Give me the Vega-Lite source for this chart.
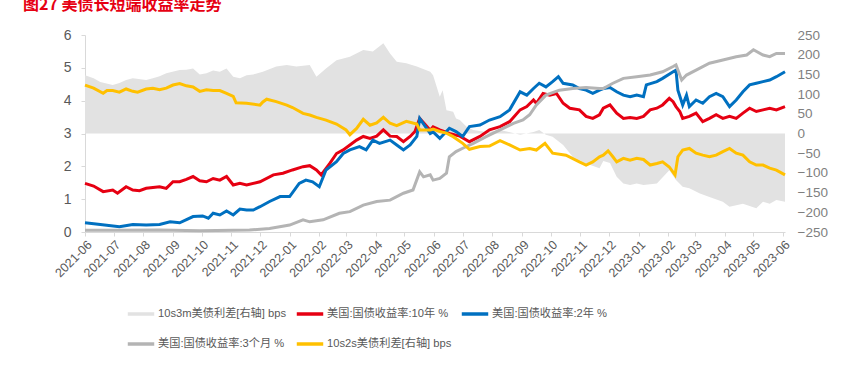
{
  "$schema": "https://vega.github.io/schema/vega-lite/v6.json",
  "width": 700,
  "height": 197,
  "autosize": {"type": "none"},
  "padding": {"left": 85, "top": 35, "right": 61, "bottom": 136},
  "title": {
    "text": "图27  美债长短端收益率走势",
    "anchor": "start",
    "frame": "group",
    "dx": -62,
    "offset": 15,
    "fontSize": 16,
    "fontWeight": "bold",
    "color": "#e60012",
    "font": "Noto Sans CJK SC"
  },
  "config": {
    "view": {"stroke": null},
    "font": "Liberation Sans, Noto Sans CJK SC",
    "axis": {"grid": false, "labelColor": "#595959", "labelFont": "Liberation Sans", "titleColor": "#595959"}
  },
  "datasets": {
    "s3": [
      {"d": "2021-06-01", "v": 148}, {"d": "2021-06-10", "v": 140}, {"d": "2021-06-17", "v": 131}, {"d": "2021-06-30", "v": 123},
      {"d": "2021-07-07", "v": 128}, {"d": "2021-07-14", "v": 136}, {"d": "2021-07-21", "v": 140}, {"d": "2021-08-04", "v": 136},
      {"d": "2021-08-11", "v": 140}, {"d": "2021-08-18", "v": 145}, {"d": "2021-08-25", "v": 153}, {"d": "2021-09-08", "v": 161},
      {"d": "2021-09-15", "v": 162}, {"d": "2021-09-22", "v": 165}, {"d": "2021-09-29", "v": 150}, {"d": "2021-10-06", "v": 153},
      {"d": "2021-10-13", "v": 160}, {"d": "2021-10-20", "v": 157}, {"d": "2021-10-27", "v": 165}, {"d": "2021-11-03", "v": 144},
      {"d": "2021-11-10", "v": 140}, {"d": "2021-11-17", "v": 148}, {"d": "2021-11-24", "v": 150}, {"d": "2021-12-04", "v": 157},
      {"d": "2021-12-18", "v": 170}, {"d": "2021-12-29", "v": 174}, {"d": "2022-01-08", "v": 170}, {"d": "2022-01-22", "v": 174},
      {"d": "2022-01-29", "v": 144}, {"d": "2022-02-08", "v": 165}, {"d": "2022-02-19", "v": 186}, {"d": "2022-03-05", "v": 195},
      {"d": "2022-03-19", "v": 212}, {"d": "2022-03-29", "v": 208}, {"d": "2022-04-09", "v": 229}, {"d": "2022-04-16", "v": 203},
      {"d": "2022-04-23", "v": 182}, {"d": "2022-05-03", "v": 178}, {"d": "2022-05-14", "v": 170}, {"d": "2022-05-28", "v": 157},
      {"d": "2022-05-31", "v": 148}, {"d": "2022-06-07", "v": 93}, {"d": "2022-06-10", "v": 110}, {"d": "2022-06-14", "v": 59},
      {"d": "2022-06-21", "v": 55}, {"d": "2022-06-24", "v": 38}, {"d": "2022-06-28", "v": 34}, {"d": "2022-07-05", "v": 17},
      {"d": "2022-07-12", "v": 9}, {"d": "2022-07-26", "v": 4}, {"d": "2022-08-09", "v": 9}, {"d": "2022-08-30", "v": -3},
      {"d": "2022-09-13", "v": 4}, {"d": "2022-09-19", "v": 9}, {"d": "2022-09-26", "v": -3}, {"d": "2022-10-03", "v": -8},
      {"d": "2022-10-14", "v": -29}, {"d": "2022-10-24", "v": -59}, {"d": "2022-11-07", "v": -76}, {"d": "2022-11-21", "v": -88},
      {"d": "2022-11-25", "v": -70}, {"d": "2022-12-02", "v": -75}, {"d": "2022-12-09", "v": -110}, {"d": "2022-12-16", "v": -127},
      {"d": "2022-12-23", "v": -131}, {"d": "2022-12-30", "v": -127}, {"d": "2023-01-06", "v": -131}, {"d": "2023-01-20", "v": -127},
      {"d": "2023-02-02", "v": -93}, {"d": "2023-02-09", "v": -118}, {"d": "2023-02-16", "v": -135}, {"d": "2023-02-23", "v": -139},
      {"d": "2023-03-06", "v": -152}, {"d": "2023-03-16", "v": -161}, {"d": "2023-03-30", "v": -173}, {"d": "2023-04-06", "v": -186},
      {"d": "2023-04-20", "v": -178}, {"d": "2023-05-04", "v": -190}, {"d": "2023-05-11", "v": -173}, {"d": "2023-05-18", "v": -178},
      {"d": "2023-05-25", "v": -169}, {"d": "2023-06-03", "v": -173}
    ],
    "y10": [
      {"d": "2021-06-01", "v": 1.48}, {"d": "2021-06-10", "v": 1.40}, {"d": "2021-06-20", "v": 1.23}, {"d": "2021-06-30", "v": 1.28},
      {"d": "2021-07-05", "v": 1.18}, {"d": "2021-07-14", "v": 1.38}, {"d": "2021-07-21", "v": 1.28}, {"d": "2021-07-28", "v": 1.26},
      {"d": "2021-08-04", "v": 1.33}, {"d": "2021-08-18", "v": 1.38}, {"d": "2021-08-25", "v": 1.33}, {"d": "2021-09-01", "v": 1.53},
      {"d": "2021-09-08", "v": 1.53}, {"d": "2021-09-15", "v": 1.60}, {"d": "2021-09-22", "v": 1.69}, {"d": "2021-09-29", "v": 1.56},
      {"d": "2021-10-06", "v": 1.53}, {"d": "2021-10-13", "v": 1.63}, {"d": "2021-10-20", "v": 1.58}, {"d": "2021-10-27", "v": 1.69},
      {"d": "2021-11-03", "v": 1.43}, {"d": "2021-11-10", "v": 1.48}, {"d": "2021-11-17", "v": 1.43}, {"d": "2021-12-01", "v": 1.53},
      {"d": "2021-12-15", "v": 1.74}, {"d": "2021-12-25", "v": 1.79}, {"d": "2022-01-04", "v": 1.89}, {"d": "2022-01-15", "v": 1.99},
      {"d": "2022-01-22", "v": 2.02}, {"d": "2022-01-29", "v": 1.89}, {"d": "2022-02-03", "v": 1.74}, {"d": "2022-02-12", "v": 2.09},
      {"d": "2022-02-19", "v": 2.39}, {"d": "2022-02-26", "v": 2.50}, {"d": "2022-03-05", "v": 2.65}, {"d": "2022-03-12", "v": 2.80},
      {"d": "2022-03-19", "v": 2.91}, {"d": "2022-03-26", "v": 2.85}, {"d": "2022-04-02", "v": 2.92}, {"d": "2022-04-09", "v": 3.11},
      {"d": "2022-04-16", "v": 2.92}, {"d": "2022-04-23", "v": 2.91}, {"d": "2022-04-30", "v": 2.75}, {"d": "2022-05-07", "v": 2.91},
      {"d": "2022-05-12", "v": 3.06}, {"d": "2022-05-17", "v": 3.46}, {"d": "2022-05-28", "v": 3.10}, {"d": "2022-05-31", "v": 3.20},
      {"d": "2022-06-07", "v": 3.11}, {"d": "2022-06-17", "v": 3.00}, {"d": "2022-06-28", "v": 2.92}, {"d": "2022-07-08", "v": 2.75},
      {"d": "2022-07-19", "v": 2.91}, {"d": "2022-07-29", "v": 3.11}, {"d": "2022-08-09", "v": 3.21}, {"d": "2022-08-19", "v": 3.36},
      {"d": "2022-08-30", "v": 3.72}, {"d": "2022-09-06", "v": 3.82}, {"d": "2022-09-13", "v": 4.02}, {"d": "2022-09-16", "v": 3.92},
      {"d": "2022-09-23", "v": 4.22}, {"d": "2022-09-30", "v": 4.17}, {"d": "2022-10-07", "v": 4.22}, {"d": "2022-10-14", "v": 3.92},
      {"d": "2022-10-21", "v": 3.77}, {"d": "2022-10-31", "v": 3.72}, {"d": "2022-11-07", "v": 3.52}, {"d": "2022-11-14", "v": 3.46},
      {"d": "2022-11-21", "v": 3.57}, {"d": "2022-11-25", "v": 3.77}, {"d": "2022-12-02", "v": 3.87}, {"d": "2022-12-09", "v": 3.62},
      {"d": "2022-12-16", "v": 3.46}, {"d": "2022-12-23", "v": 3.49}, {"d": "2022-12-30", "v": 3.46}, {"d": "2023-01-06", "v": 3.52},
      {"d": "2023-01-13", "v": 3.72}, {"d": "2023-01-20", "v": 3.77}, {"d": "2023-01-26", "v": 3.87}, {"d": "2023-02-02", "v": 4.07},
      {"d": "2023-02-06", "v": 3.97}, {"d": "2023-02-09", "v": 3.82}, {"d": "2023-02-13", "v": 3.67}, {"d": "2023-02-16", "v": 3.46},
      {"d": "2023-02-23", "v": 3.52}, {"d": "2023-03-02", "v": 3.62}, {"d": "2023-03-09", "v": 3.36}, {"d": "2023-03-16", "v": 3.46},
      {"d": "2023-03-23", "v": 3.57}, {"d": "2023-03-30", "v": 3.46}, {"d": "2023-04-06", "v": 3.52}, {"d": "2023-04-13", "v": 3.46},
      {"d": "2023-04-20", "v": 3.62}, {"d": "2023-04-27", "v": 3.77}, {"d": "2023-05-04", "v": 3.67}, {"d": "2023-05-11", "v": 3.72},
      {"d": "2023-05-18", "v": 3.77}, {"d": "2023-05-25", "v": 3.72}, {"d": "2023-06-03", "v": 3.82}
    ],
    "y2": [
      {"d": "2021-06-01", "v": 0.28}, {"d": "2021-06-17", "v": 0.23}, {"d": "2021-07-07", "v": 0.16}, {"d": "2021-07-21", "v": 0.23},
      {"d": "2021-08-04", "v": 0.21}, {"d": "2021-08-18", "v": 0.23}, {"d": "2021-08-29", "v": 0.31}, {"d": "2021-09-08", "v": 0.28},
      {"d": "2021-09-22", "v": 0.47}, {"d": "2021-10-02", "v": 0.49}, {"d": "2021-10-08", "v": 0.42}, {"d": "2021-10-13", "v": 0.57},
      {"d": "2021-10-20", "v": 0.52}, {"d": "2021-10-27", "v": 0.64}, {"d": "2021-11-03", "v": 0.52}, {"d": "2021-11-10", "v": 0.70},
      {"d": "2021-11-17", "v": 0.67}, {"d": "2021-11-24", "v": 0.67}, {"d": "2021-12-01", "v": 0.77}, {"d": "2021-12-11", "v": 0.93},
      {"d": "2021-12-22", "v": 1.08}, {"d": "2022-01-01", "v": 1.08}, {"d": "2022-01-11", "v": 1.48}, {"d": "2022-01-18", "v": 1.58},
      {"d": "2022-01-25", "v": 1.53}, {"d": "2022-02-01", "v": 1.38}, {"d": "2022-02-08", "v": 1.89}, {"d": "2022-02-19", "v": 2.14},
      {"d": "2022-02-26", "v": 2.39}, {"d": "2022-03-05", "v": 2.50}, {"d": "2022-03-15", "v": 2.60}, {"d": "2022-03-22", "v": 2.50},
      {"d": "2022-03-29", "v": 2.80}, {"d": "2022-04-05", "v": 2.70}, {"d": "2022-04-16", "v": 2.80}, {"d": "2022-04-23", "v": 2.65},
      {"d": "2022-04-30", "v": 2.50}, {"d": "2022-05-07", "v": 2.65}, {"d": "2022-05-14", "v": 2.91}, {"d": "2022-05-17", "v": 3.46},
      {"d": "2022-05-28", "v": 3.00}, {"d": "2022-05-31", "v": 3.05}, {"d": "2022-06-07", "v": 2.85}, {"d": "2022-06-17", "v": 3.16},
      {"d": "2022-06-24", "v": 3.06}, {"d": "2022-07-01", "v": 2.91}, {"d": "2022-07-08", "v": 3.21}, {"d": "2022-07-19", "v": 3.26},
      {"d": "2022-07-29", "v": 3.41}, {"d": "2022-08-09", "v": 3.51}, {"d": "2022-08-19", "v": 3.72}, {"d": "2022-08-30", "v": 4.27},
      {"d": "2022-09-06", "v": 4.17}, {"d": "2022-09-13", "v": 4.37}, {"d": "2022-09-19", "v": 4.53}, {"d": "2022-09-26", "v": 4.42},
      {"d": "2022-10-03", "v": 4.58}, {"d": "2022-10-09", "v": 4.73}, {"d": "2022-10-14", "v": 4.53}, {"d": "2022-10-24", "v": 4.48},
      {"d": "2022-10-31", "v": 4.37}, {"d": "2022-11-07", "v": 4.32}, {"d": "2022-11-14", "v": 4.22}, {"d": "2022-11-21", "v": 4.32},
      {"d": "2022-11-25", "v": 4.37}, {"d": "2022-12-02", "v": 4.40}, {"d": "2022-12-09", "v": 4.27}, {"d": "2022-12-16", "v": 4.17},
      {"d": "2022-12-23", "v": 4.12}, {"d": "2022-12-30", "v": 4.17}, {"d": "2023-01-06", "v": 4.12}, {"d": "2023-01-09", "v": 4.48},
      {"d": "2023-01-20", "v": 4.58}, {"d": "2023-01-26", "v": 4.68}, {"d": "2023-02-06", "v": 4.88}, {"d": "2023-02-09", "v": 4.93},
      {"d": "2023-02-11", "v": 4.32}, {"d": "2023-02-16", "v": 3.87}, {"d": "2023-02-20", "v": 4.17}, {"d": "2023-02-23", "v": 3.82},
      {"d": "2023-03-02", "v": 4.02}, {"d": "2023-03-09", "v": 3.92}, {"d": "2023-03-16", "v": 4.12}, {"d": "2023-03-23", "v": 4.22},
      {"d": "2023-03-30", "v": 4.12}, {"d": "2023-04-06", "v": 3.82}, {"d": "2023-04-13", "v": 4.02}, {"d": "2023-04-20", "v": 4.27},
      {"d": "2023-04-27", "v": 4.48}, {"d": "2023-05-04", "v": 4.53}, {"d": "2023-05-11", "v": 4.58}, {"d": "2023-05-18", "v": 4.63},
      {"d": "2023-05-25", "v": 4.73}, {"d": "2023-06-03", "v": 4.88}
    ],
    "m3": [
      {"d": "2021-06-01", "v": 0.05}, {"d": "2021-07-07", "v": 0.05}, {"d": "2021-08-18", "v": 0.06}, {"d": "2021-09-29", "v": 0.04},
      {"d": "2021-11-03", "v": 0.05}, {"d": "2021-11-20", "v": 0.06}, {"d": "2021-12-11", "v": 0.11}, {"d": "2022-01-01", "v": 0.21},
      {"d": "2022-01-15", "v": 0.37}, {"d": "2022-01-22", "v": 0.31}, {"d": "2022-02-05", "v": 0.37}, {"d": "2022-02-22", "v": 0.57},
      {"d": "2022-03-05", "v": 0.62}, {"d": "2022-03-19", "v": 0.82}, {"d": "2022-04-02", "v": 0.93}, {"d": "2022-04-16", "v": 0.97},
      {"d": "2022-04-30", "v": 1.18}, {"d": "2022-05-10", "v": 1.28}, {"d": "2022-05-17", "v": 1.83}, {"d": "2022-05-21", "v": 1.68},
      {"d": "2022-05-28", "v": 1.74}, {"d": "2022-05-31", "v": 1.58}, {"d": "2022-06-07", "v": 1.63}, {"d": "2022-06-14", "v": 1.79},
      {"d": "2022-06-17", "v": 2.29}, {"d": "2022-06-24", "v": 2.45}, {"d": "2022-07-01", "v": 2.55}, {"d": "2022-07-12", "v": 2.70},
      {"d": "2022-07-26", "v": 2.91}, {"d": "2022-08-09", "v": 3.11}, {"d": "2022-08-23", "v": 3.31}, {"d": "2022-09-02", "v": 3.41},
      {"d": "2022-09-09", "v": 3.57}, {"d": "2022-09-16", "v": 3.87}, {"d": "2022-09-26", "v": 4.17}, {"d": "2022-10-10", "v": 4.32},
      {"d": "2022-10-24", "v": 4.37}, {"d": "2022-11-07", "v": 4.40}, {"d": "2022-11-21", "v": 4.37}, {"d": "2022-11-25", "v": 4.37},
      {"d": "2022-12-05", "v": 4.53}, {"d": "2022-12-16", "v": 4.68}, {"d": "2022-12-30", "v": 4.73}, {"d": "2023-01-13", "v": 4.78},
      {"d": "2023-01-26", "v": 4.88}, {"d": "2023-02-06", "v": 5.04}, {"d": "2023-02-09", "v": 5.09}, {"d": "2023-02-15", "v": 4.63},
      {"d": "2023-02-20", "v": 4.78}, {"d": "2023-03-02", "v": 4.93}, {"d": "2023-03-16", "v": 5.14}, {"d": "2023-03-30", "v": 5.24},
      {"d": "2023-04-13", "v": 5.34}, {"d": "2023-04-24", "v": 5.39}, {"d": "2023-05-01", "v": 5.55}, {"d": "2023-05-11", "v": 5.39},
      {"d": "2023-05-18", "v": 5.34}, {"d": "2023-05-25", "v": 5.44}, {"d": "2023-06-03", "v": 5.44}
    ],
    "s2": [
      {"d": "2021-06-01", "v": 123}, {"d": "2021-06-10", "v": 115}, {"d": "2021-06-20", "v": 102}, {"d": "2021-06-24", "v": 109},
      {"d": "2021-06-30", "v": 109}, {"d": "2021-07-07", "v": 105}, {"d": "2021-07-14", "v": 113}, {"d": "2021-07-21", "v": 107},
      {"d": "2021-07-26", "v": 105}, {"d": "2021-08-04", "v": 113}, {"d": "2021-08-11", "v": 115}, {"d": "2021-08-18", "v": 111},
      {"d": "2021-08-25", "v": 115}, {"d": "2021-09-01", "v": 123}, {"d": "2021-09-08", "v": 127}, {"d": "2021-09-15", "v": 121},
      {"d": "2021-09-22", "v": 118}, {"d": "2021-09-29", "v": 107}, {"d": "2021-10-06", "v": 111}, {"d": "2021-10-13", "v": 109},
      {"d": "2021-10-20", "v": 109}, {"d": "2021-10-27", "v": 102}, {"d": "2021-11-03", "v": 94}, {"d": "2021-11-06", "v": 78},
      {"d": "2021-11-17", "v": 77}, {"d": "2021-12-01", "v": 72}, {"d": "2021-12-04", "v": 80}, {"d": "2021-12-08", "v": 87},
      {"d": "2021-12-18", "v": 81}, {"d": "2021-12-29", "v": 72}, {"d": "2022-01-04", "v": 66}, {"d": "2022-01-15", "v": 51},
      {"d": "2022-01-22", "v": 47}, {"d": "2022-01-29", "v": 41}, {"d": "2022-02-08", "v": 34}, {"d": "2022-02-19", "v": 24},
      {"d": "2022-03-01", "v": 9}, {"d": "2022-03-05", "v": -3}, {"d": "2022-03-12", "v": 13}, {"d": "2022-03-19", "v": 36},
      {"d": "2022-03-26", "v": 21}, {"d": "2022-04-02", "v": 27}, {"d": "2022-04-09", "v": 41}, {"d": "2022-04-16", "v": 26},
      {"d": "2022-04-23", "v": 20}, {"d": "2022-05-03", "v": 31}, {"d": "2022-05-14", "v": 24}, {"d": "2022-05-17", "v": 9},
      {"d": "2022-05-28", "v": 9}, {"d": "2022-05-31", "v": 11}, {"d": "2022-06-07", "v": 5}, {"d": "2022-06-14", "v": 1},
      {"d": "2022-06-21", "v": -8}, {"d": "2022-07-01", "v": -25}, {"d": "2022-07-08", "v": -40}, {"d": "2022-07-19", "v": -33},
      {"d": "2022-07-29", "v": -32}, {"d": "2022-08-09", "v": -18}, {"d": "2022-08-19", "v": -29}, {"d": "2022-08-30", "v": -42},
      {"d": "2022-09-09", "v": -38}, {"d": "2022-09-16", "v": -42}, {"d": "2022-09-25", "v": -25}, {"d": "2022-10-03", "v": -50},
      {"d": "2022-10-17", "v": -55}, {"d": "2022-10-31", "v": -72}, {"d": "2022-11-07", "v": -80}, {"d": "2022-11-14", "v": -72},
      {"d": "2022-11-21", "v": -59}, {"d": "2022-11-25", "v": -55}, {"d": "2022-11-30", "v": -44}, {"d": "2022-12-05", "v": -59},
      {"d": "2022-12-09", "v": -72}, {"d": "2022-12-16", "v": -63}, {"d": "2022-12-23", "v": -68}, {"d": "2022-12-30", "v": -63},
      {"d": "2023-01-06", "v": -66}, {"d": "2023-01-13", "v": -80}, {"d": "2023-01-20", "v": -76}, {"d": "2023-01-26", "v": -72},
      {"d": "2023-02-02", "v": -85}, {"d": "2023-02-08", "v": -105}, {"d": "2023-02-11", "v": -59}, {"d": "2023-02-16", "v": -42},
      {"d": "2023-02-23", "v": -38}, {"d": "2023-03-02", "v": -50}, {"d": "2023-03-09", "v": -55}, {"d": "2023-03-16", "v": -59},
      {"d": "2023-03-23", "v": -55}, {"d": "2023-03-30", "v": -46}, {"d": "2023-04-06", "v": -38}, {"d": "2023-04-13", "v": -50},
      {"d": "2023-04-20", "v": -55}, {"d": "2023-04-27", "v": -72}, {"d": "2023-05-04", "v": -80}, {"d": "2023-05-11", "v": -80},
      {"d": "2023-05-18", "v": -88}, {"d": "2023-05-25", "v": -93}, {"d": "2023-06-03", "v": -105}
    ]
  },
  "layer": [
    {
      "data": {"name": "s3"},
      "mark": {"type": "area", "opacity": 1},
      "encoding": {
        "x": {
          "field": "d", "type": "temporal",
          "scale": {"domain": ["2021-06-01", "2023-06-03"]},
          "axis": {
            "title": null, "format": "%Y-%m", "tickCount": {"interval": "month", "step": 1},
            "labelAngle": -45, "labelAlign": "right", "labelBaseline": "top", "labelFontSize": 12.5,
            "labelPadding": 2, "labelOverlap": false, "labelFlush": false,
            "domainColor": "#d9d9d9", "tickColor": "#d9d9d9", "tickSize": 4
          }
        },
        "y": {
          "field": "v", "type": "quantitative",
          "scale": {"domain": [-250, 250], "nice": false, "zero": false},
          "axis": {
            "orient": "right", "title": null, "values": [-250, -200, -150, -100, -50, 0, 50, 100, 150, 200, 250],
            "labelOverlap": false, "domain": false, "ticks": false, "labelPadding": 12, "labelFontSize": 13.5, "labelColor": "#7f7f7f"
          }
        },
        "color": {
          "datum": "10s3m美债利差[右轴] bps", "type": "nominal",
          "scale": {
            "domain": ["10s3m美债利差[右轴] bps", "美国:国债收益率:10年 %", "美国:国债收益率:2年 %", "美国:国债收益率:3个月 %", "10s2s美债利差[右轴] bps"],
            "range": ["#e2e2e2", "#e60012", "#0070c0", "#b4b4b4", "#ffc000"]
          },
          "legend": {
            "title": null, "orient": "none", "legendX": 41, "legendY": 264, "direction": "horizontal", "columns": 3,
            "symbolType": "stroke", "symbolSize": 700, "symbolStrokeWidth": 3.5,
            "labelFontSize": 11.2, "labelColor": "#595959", "labelFont": "Liberation Sans, Noto Sans CJK SC",
            "labelOffset": 2, "labelLimit": 400, "columnPadding": 2, "rowPadding": 8,
            "encode": {"symbols": {"update": {"strokeWidth": {"signal": "datum.index === 0 ? 10 : 3.5"}, "strokeCap": {"value": "butt"}}}}
          }
        }
      }
    },
    {
      "layer": [
        {
          "data": {"name": "y10"},
          "mark": {"type": "line", "strokeWidth": 3},
          "encoding": {
            "x": {"field": "d", "type": "temporal"},
            "y": {
              "field": "v", "type": "quantitative",
              "scale": {"domain": [0, 6], "nice": false},
              "axis": {
                "orient": "left", "title": null, "values": [0, 1, 2, 3, 4, 5, 6], "tickCount": 7, "labelOverlap": false,
                "domainColor": "#d9d9d9", "tickColor": "#d9d9d9", "tickSize": 4, "labelPadding": 10, "labelFontSize": 14
              }
            },
            "color": {"datum": "美国:国债收益率:10年 %", "type": "nominal"}
          }
        },
        {
          "data": {"name": "y2"},
          "mark": {"type": "line", "strokeWidth": 3},
          "encoding": {
            "x": {"field": "d", "type": "temporal"},
            "y": {"field": "v", "type": "quantitative"},
            "color": {"datum": "美国:国债收益率:2年 %", "type": "nominal"}
          }
        },
        {
          "data": {"name": "m3"},
          "mark": {"type": "line", "strokeWidth": 3},
          "encoding": {
            "x": {"field": "d", "type": "temporal"},
            "y": {"field": "v", "type": "quantitative"},
            "color": {"datum": "美国:国债收益率:3个月 %", "type": "nominal"}
          }
        }
      ]
    },
    {
      "data": {"name": "s2"},
      "mark": {"type": "line", "strokeWidth": 3},
      "encoding": {
        "x": {"field": "d", "type": "temporal"},
        "y": {"field": "v", "type": "quantitative", "scale": {"domain": [-250, 250], "nice": false, "zero": false}, "axis": null},
        "color": {"datum": "10s2s美债利差[右轴] bps", "type": "nominal"}
      }
    }
  ],
  "resolve": {"scale": {"y": "independent"}}
}
